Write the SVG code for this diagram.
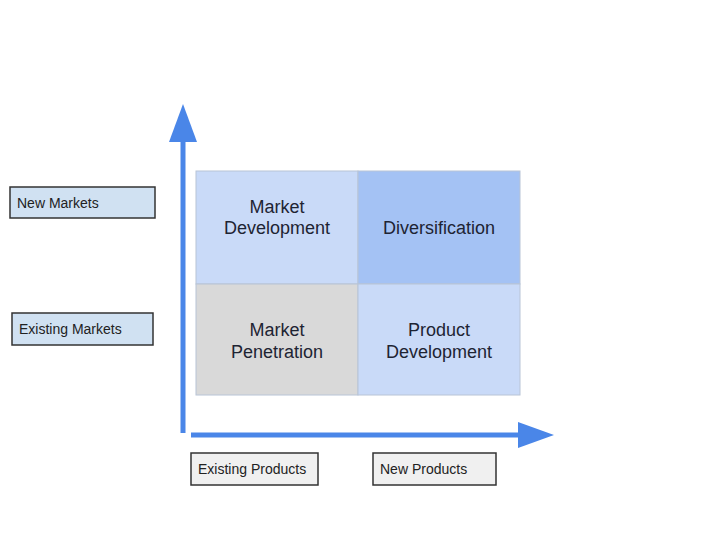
<svg xmlns="http://www.w3.org/2000/svg" width="720" height="539" viewBox="0 0 720 539">
<style>
.q{stroke:#b8c4d6;stroke-width:1}
.qt{font-family:"Liberation Sans",Arial,sans-serif;font-size:18px;fill:#1e2433;text-anchor:middle}
.lb{stroke:#333;stroke-width:1.5}
.lt{font-family:"Liberation Sans",Arial,sans-serif;font-size:14px;fill:#222}
.ax{stroke:#4a86e8;stroke-width:5;fill:none}
.ah{fill:#4a86e8}
</style>
<rect width="720" height="539" fill="#fff"/>
<g id="quadrants">
<g id="market-development"><rect class="q" x="196" y="171" width="162" height="113" fill="#c9daf8"/><text class="qt" x="277" y="213">Market</text><text class="qt" x="277" y="234">Development</text></g>
<g id="diversification"><rect class="q" x="358" y="171" width="162" height="113" fill="#a4c2f4"/><text class="qt" x="439" y="234">Diversification</text></g>
<g id="market-penetration"><rect class="q" x="196" y="284" width="162" height="111" fill="#d9d9d9"/><text class="qt" x="277" y="336">Market</text><text class="qt" x="277" y="358">Penetration</text></g>
<g id="product-development"><rect class="q" x="358" y="284" width="162" height="111" fill="#c9daf8"/><text class="qt" x="439" y="336">Product</text><text class="qt" x="439" y="358">Development</text></g>
</g>
<g id="connectors">
<line class="ax" x1="183" y1="433" x2="183" y2="138"/>
<polygon class="ah" points="183,104 169,142 197,142"/>
<line class="ax" x1="191" y1="435" x2="520" y2="435"/>
<polygon class="ah" points="554,435 518,422 518,448"/>
</g>
<g id="new-markets"><rect class="lb" x="10" y="187" width="145" height="31" fill="#d0e1f2"/><text class="lt" x="17" y="208">New Markets</text></g>
<g id="existing-markets"><rect class="lb" x="12" y="313" width="141" height="32" fill="#d0e1f2"/><text class="lt" x="19" y="334">Existing Markets</text></g>
<g id="existing-products"><rect class="lb" x="191" y="453" width="127" height="32" fill="#f0f0f0"/><text class="lt" x="198" y="474">Existing Products</text></g>
<g id="new-products"><rect class="lb" x="373" y="453" width="123" height="32" fill="#f0f0f0"/><text class="lt" x="380" y="474">New Products</text></g>
</svg>
